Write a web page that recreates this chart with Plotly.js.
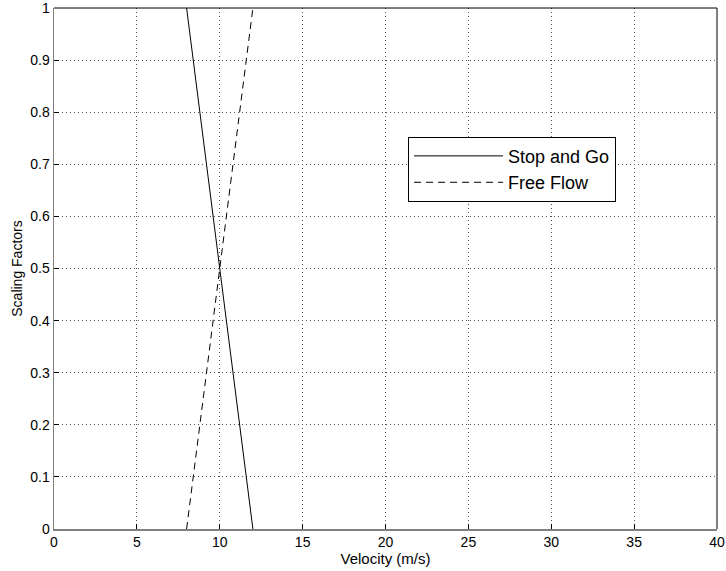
<!DOCTYPE html>
<html>
<head>
<meta charset="utf-8">
<script src="https://cdn.plot.ly/plotly-3.0.1.min.js"></script>
<style>html,body{margin:0;padding:0;background:#fff;}#chart{width:726px;height:571px;}</style>
</head>
<body>
<div id="chart"></div>
<script>
var stopGoX = [8, 12];
var stopGoY = [1, 0];
var freeFlowX = [8, 12];
var freeFlowY = [0, 1];
var seriesNames = ["Stop and Go", "Free Flow"];
var xTicks = [0, 5, 10, 15, 20, 25, 30, 35, 40];
var yTicks = [0, 0.1, 0.2, 0.3, 0.4, 0.5, 0.6, 0.7, 0.8, 0.9, 1];
var yTickText = ["0", "0.1", "0.2", "0.3", "0.4", "0.5", "0.6", "0.7", "0.8", "0.9", "1"];

var traces = [
  {x: stopGoX, y: stopGoY, name: seriesNames[0], mode: 'lines', line: {color: '#000', width: 1}},
  {x: freeFlowX, y: freeFlowY, name: seriesNames[1], mode: 'lines', line: {color: '#000', width: 1, dash: '7px,5px'}}
];
var FONT = 'Liberation Sans, Arial, Helvetica, sans-serif';
var axisCommon = {
  showgrid: true, gridcolor: '#555', griddash: '1px,3px', gridwidth: 1,
  zeroline: false, ticks: 'inside', ticklen: 5, tickcolor: '#000',
  showline: true, linecolor: '#808080', linewidth: 1.5,
  ticklabeloverflow: 'allow',
  tickfont: {family: FONT, size: 14, color: '#000'}
};
var layout = {
  width: 726, height: 571,
  margin: {l: 54, r: 9, t: 8, b: 42},
  paper_bgcolor: '#fff', plot_bgcolor: '#fff',
  font: {family: FONT, color: '#000'},
  xaxis: Object.assign({}, axisCommon, {
    range: [0, 40], tickvals: xTicks, ticktext: xTicks.map(String),
    title: {text: 'Velocity (m/s)', font: {size: 15}, standoff: 2}
  }),
  yaxis: Object.assign({}, axisCommon, {
    range: [0, 1], tickvals: yTicks, ticktext: yTickText,
    title: {text: 'Scaling Factors', font: {size: 14}, standoff: 4}
  }),
  showlegend: true,
  legend: {
    x: 0.534, y: 0.753, xanchor: 'left', yanchor: 'top',
    bgcolor: '#fff', bordercolor: '#000', borderwidth: 1,
    font: {size: 18, family: FONT, color: '#000'},
    itemwidth: 89, tracegroupgap: 0
  },
  shapes: [
    {type: 'line', xref: 'paper', yref: 'paper', x0: 0, x1: 1, y0: 1, y1: 1, line: {color: '#000', width: 1}},
    {type: 'line', xref: 'paper', yref: 'paper', x0: 1, x1: 1, y0: 0, y1: 1, line: {color: '#000', width: 1}}
  ]
};
Plotly.newPlot('chart', traces, layout, {displayModeBar: false, staticPlot: true});
</script>
</body>
</html>
